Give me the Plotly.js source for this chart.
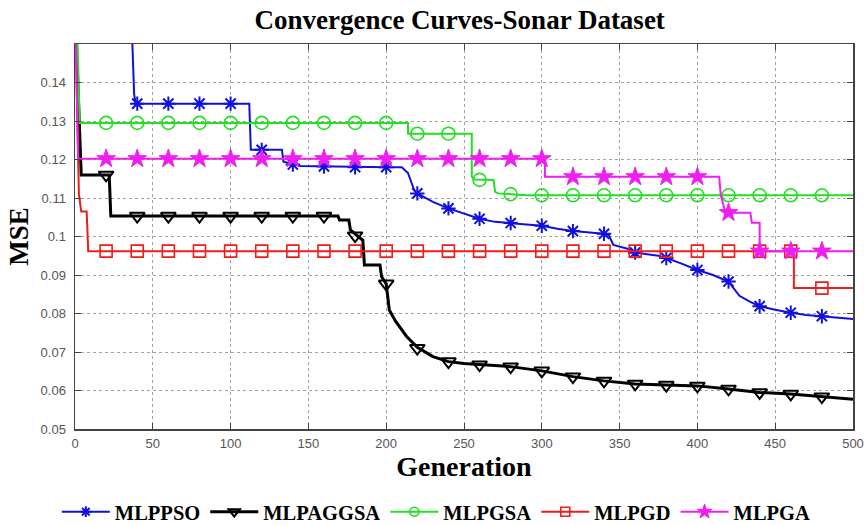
<!DOCTYPE html>
<html>
<head>
<meta charset="utf-8">
<script src="https://cdn.plot.ly/plotly-3.0.1.min.js"></script>
<style>
html,body{margin:0;padding:0;background:#fff;}
#chart{width:864px;height:525px;}
</style>
</head>
<body>
<div id="chart"></div>
<script>
// ---------- data ----------
const seriesNames = ['MLPPSO', 'MLPAGGSA', 'MLPGSA', 'MLPGD', 'MLPGA'];

// marker generations (every 20)
const markGen = [20,40,60,80,100,120,140,160,180,200,220,240,260,280,300,320,340,360,380,400,420,440,460,480];

// MLPPSO (blue)
const psoGen = [36, 38, 39, 112, 113, 133, 134, 145, 200, 210, 214, 218, 220, 230, 240, 250, 260, 270, 280, 300, 310, 320, 340, 343, 346, 358, 360, 375, 380, 389, 400, 410, 420, 427, 434, 440, 450, 460, 470, 480, 490, 500];
const psoMSE = [0.160, 0.137, 0.1345, 0.1345, 0.1225, 0.1225, 0.1194, 0.1183, 0.1180, 0.1180, 0.1165, 0.1120, 0.1112, 0.1090, 0.1073, 0.1060, 0.1046, 0.1038, 0.1035, 0.1028, 0.1020, 0.1014, 0.1007, 0.1004, 0.0978, 0.0965, 0.0958, 0.0950, 0.0944, 0.0931, 0.0913, 0.0900, 0.0883, 0.0846, 0.0830, 0.0819, 0.0810, 0.0802, 0.0796, 0.0793, 0.0790, 0.0786];
const psoMark = [null, 0.1345, 0.1345, 0.1345, 0.1345, 0.1225, 0.1187, 0.1182, 0.1180, 0.1180, 0.1112, 0.1073, 0.1046, 0.1035, 0.1028, 0.1014, 0.1007, 0.0958, 0.0944, 0.0913, 0.0883, 0.0819, 0.0802, 0.0793];

// MLPAGGSA (black)
const agGen = [0, 2, 3, 4, 22, 23, 169, 170, 176, 177, 182, 185, 186, 196, 197, 200, 202, 206, 213, 220, 230, 240, 250, 260, 280, 300, 320, 340, 360, 380, 400, 420, 440, 460, 480, 500];
const agMSE = [0.160, 0.135, 0.128, 0.1160, 0.1160, 0.1053, 0.1053, 0.1043, 0.1043, 0.1017, 0.1000, 0.0990, 0.0926, 0.0926, 0.0896, 0.0877, 0.0809, 0.0780, 0.0741, 0.0712, 0.0688, 0.0675, 0.0670, 0.0667, 0.0662, 0.0651, 0.0636, 0.0625, 0.0617, 0.0614, 0.0612, 0.0604, 0.0595, 0.0591, 0.0584, 0.0577];
const agMark = [0.1160, 0.1053, 0.1053, 0.1053, 0.1053, 0.1053, 0.1053, 0.1053, 0.1002, 0.0877, 0.0710, 0.0675, 0.0667, 0.0662, 0.0651, 0.0636, 0.0625, 0.0617, 0.0614, 0.0612, 0.0604, 0.0595, 0.0591, 0.0584];

// MLPGSA (green)
const gsaGen = [1, 3, 214, 214, 255, 255, 257, 269, 270, 272, 290, 500];
const gsaMSE = [0.160, 0.1295, 0.1295, 0.1267, 0.1267, 0.1155, 0.1148, 0.1147, 0.1116, 0.1112, 0.1107, 0.1107];
const gsaMark = [0.1295, 0.1295, 0.1295, 0.1295, 0.1295, 0.1295, 0.1295, 0.1295, 0.1295, 0.1295, 0.1267, 0.1267, 0.1147, 0.1110, 0.1107, 0.1107, 0.1107, 0.1107, 0.1107, 0.1107, 0.1107, 0.1107, 0.1107, 0.1107];

// MLPGD (red)
const gdGen = [0, 1, 2.5, 4, 7.5, 8.5, 462, 462, 500];
const gdMSE = [0.160, 0.138, 0.111, 0.1065, 0.1065, 0.0962, 0.0962, 0.0866, 0.0866];
const gdMark = [0.0962, 0.0962, 0.0962, 0.0962, 0.0962, 0.0962, 0.0962, 0.0962, 0.0962, 0.0962, 0.0962, 0.0962, 0.0962, 0.0962, 0.0962, 0.0962, 0.0962, 0.0962, 0.0962, 0.0962, 0.0962, 0.0962, 0.0962, 0.0866];

// MLPGA (magenta)
const gaGen = [0, 2, 302, 302, 414, 415, 418, 434, 435, 440, 440, 500];
const gaMSE = [0.160, 0.1202, 0.1202, 0.1155, 0.1155, 0.1108, 0.1062, 0.1062, 0.1036, 0.1036, 0.0962, 0.0962];
const gaMark = [0.1202, 0.1202, 0.1202, 0.1202, 0.1202, 0.1202, 0.1202, 0.1202, 0.1202, 0.1202, 0.1202, 0.1202, 0.1202, 0.1202, 0.1202, 0.1155, 0.1155, 0.1155, 0.1155, 0.1155, 0.1062, 0.0962, 0.0962, 0.0962];

// axis ticks
const xTicks = [0, 50, 100, 150, 200, 250, 300, 350, 400, 450, 500];
const yTicks = [0.05, 0.06, 0.07, 0.08, 0.09, 0.10, 0.11, 0.12, 0.13, 0.14];
const yTickText = ['0.05', '0.06', '0.07', '0.08', '0.09', '0.1', '0.11', '0.12', '0.13', '0.14'];

// ---------- styles ----------
const styles = [
  {color: '#1010dd', width: 2,   symbol: 'asterisk-open',     size: 12, mlw: 2,   fill: '#1010dd', lsize: 9},
  {color: '#000000', width: 3,   symbol: 'triangle-down-open', size: 13, mlw: 2,   fill: '#000000', lsize: 10},
  {color: '#22e022', width: 2,   symbol: 'circle-open',       size: 13, mlw: 1.6, fill: '#22e022', lsize: 9},
  {color: '#ee1c1c', width: 2,   symbol: 'square-open',       size: 12, mlw: 1.6, fill: '#ee1c1c', lsize: 9},
  {color: '#f01ef0', width: 2,   symbol: 'star',              size: 14, mlw: 1,   fill: '#f01ef0', lsize: 11}
];
const lineX = [psoGen, agGen, gsaGen, gdGen, gaGen];
const lineY = [psoMSE, agMSE, gsaMSE, gdMSE, gaMSE];
const markY = [psoMark, agMark, gsaMark, gdMark, gaMark];

const traces = [];
for (let i = 0; i < seriesNames.length; i++) {
  const s = styles[i];
  traces.push({
    type: 'scatter', mode: 'lines', x: lineX[i], y: lineY[i],
    line: {color: s.color, width: s.width}, showlegend: false, hoverinfo: 'skip',
    cliponaxis: true
  });
  traces.push({
    type: 'scatter', mode: 'markers', x: markGen, y: markY[i],
    marker: {symbol: s.symbol, size: s.size, color: s.fill, line: {color: s.color, width: s.mlw}},
    showlegend: false, hoverinfo: 'skip', cliponaxis: true
  });
}
// legend entries
for (let i = 0; i < seriesNames.length; i++) {
  const s = styles[i];
  traces.push({
    type: 'scatter', mode: 'lines+markers', x: [null], y: [null], name: seriesNames[i],
    line: {color: s.color, width: s.width},
    marker: {symbol: s.symbol, size: s.lsize, color: s.fill, line: {color: s.color, width: s.mlw}},
    showlegend: true
  });
}

const serif = '"Liberation Serif", "Times New Roman", Times, serif';
const sans = '"Liberation Sans", Arial, Helvetica, sans-serif';

const axisCommon = {
  showline: true, linecolor: '#444', linewidth: 1.5, mirror: 'ticks',
  ticks: 'inside', ticklen: 6, tickwidth: 1, tickcolor: '#444',
  showgrid: true, gridcolor: '#a0a0a0', griddash: 'dot', gridwidth: 1,
  zeroline: false, tickfont: {family: sans, size: 13, color: '#555'},
  automargin: false
};

const layout = {
  width: 864, height: 525,
  margin: {l: 75, r: 11, t: 44, b: 96, autoexpand: false},
  paper_bgcolor: '#fff', plot_bgcolor: '#fff',
  title: {text: 'Convergence Curves-Sonar Dataset', x: 0.532, xanchor: 'center', y: 0.962, yanchor: 'middle',
          font: {family: serif, size: 27, weight: 'bold', color: '#000'}},
  xaxis: Object.assign({}, axisCommon, {
    range: [0, 500], tickvals: xTicks, ticklabelstandoff: 2,
    title: {text: 'Generation', standoff: 5, font: {family: serif, size: 28, weight: 'bold', color: '#000'}}
  }),
  yaxis: Object.assign({}, axisCommon, {
    range: [0.05, 0.15], tickvals: yTicks, ticktext: yTickText, ticklabelstandoff: 5,
    title: {text: 'MSE', standoff: 4, font: {family: serif, size: 27, weight: 'bold', color: '#000'}}
  }),
  legend: {orientation: 'h', xref: 'container', yref: 'container', x: 0.505, xanchor: 'center', y: 0.025, yanchor: 'middle',
           font: {family: serif, size: 20.5, weight: 'bold', color: '#000'},
           itemwidth: 48, bgcolor: 'rgba(0,0,0,0)', traceorder: 'normal'},
  showlegend: true
};

Plotly.newPlot('chart', traces, layout, {staticPlot: true, displayModeBar: false});
</script>
</body>
</html>
